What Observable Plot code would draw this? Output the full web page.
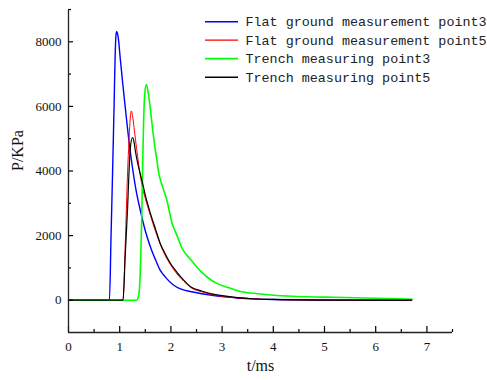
<!DOCTYPE html>
<html>
<head>
<meta charset="utf-8">
<script src="https://cdn.jsdelivr.net/npm/d3@7"></script>
<script src="https://cdn.jsdelivr.net/npm/@observablehq/plot@0.6"></script>
<style>
  html, body { margin: 0; padding: 0; background: #fff; }
  #chart { width: 487px; height: 380px; }
</style>
</head>
<body>
<div id="chart"></div>
<script>
// Series names (legend order)
const seriesNames = [
  "Flat ground measurement point3",
  "Flat ground measurement point5",
  "Trench measuring point3",
  "Trench measuring point5"
];
const seriesColors = ["#0000ff", "#ff0000", "#00ff00", "#000000"];

// Flat ground measurement point3 (blue)
const flat3T = [0, 0.80, 0.83, 0.86, 0.89, 0.91, 0.925, 0.94, 0.97, 1.01, 1.06, 1.11, 1.175, 1.25, 1.32, 1.40, 1.50, 1.60, 1.70, 1.79, 1.90, 2.05, 2.20, 2.40, 2.60, 2.80, 3.00, 3.30, 3.60, 4.00, 4.50, 5.00, 6.00, 6.70];
const flat3P = [0, 0, 1900, 3900, 6000, 7500, 8150, 8320, 8150, 7500, 6700, 5950, 5000, 4100, 3400, 2800, 2150, 1650, 1250, 930, 700, 470, 340, 260, 200, 150, 110, 70, 40, 20, 10, 5, 0, 0];

// Flat ground measurement point5 (red)
const flat5T = [0, 1.064, 1.11, 1.155, 1.18, 1.20, 1.227, 1.25, 1.28, 1.31, 1.35, 1.40, 1.45, 1.50, 1.60, 1.70, 1.80, 1.90, 2.00, 2.10, 2.25, 2.40, 2.60, 2.80, 3.00, 3.30, 3.60, 4.00, 4.50, 5.00, 6.00, 6.70];
const flat5P = [0, 0, 1800, 4000, 4900, 5500, 5860, 5720, 5350, 4950, 4450, 3880, 3450, 3150, 2620, 2130, 1700, 1350, 1080, 850, 590, 380, 260, 175, 120, 70, 40, 20, 8, 4, 0, 0];

// Trench measuring point3 (green)
const trench3T = [0, 1.33, 1.37, 1.39, 1.41, 1.43, 1.45, 1.465, 1.49, 1.52, 1.56, 1.60, 1.65, 1.70, 1.73, 1.76, 1.80, 1.86, 1.92, 2.02, 2.12, 2.22, 2.38, 2.58, 2.77, 2.90, 3.10, 3.36, 3.70, 4.00, 4.67, 5.20, 5.80, 6.30, 6.72];
const trench3P = [0, 0, 150, 450, 1300, 2500, 4300, 5400, 6400, 6680, 6400, 5900, 5200, 4600, 4300, 3950, 3700, 3400, 3100, 2400, 2000, 1600, 1270, 900, 640, 520, 400, 270, 200, 155, 105, 90, 70, 50, 30];

// Trench measuring point5 (black)
const trench5T = [0, 1.064, 1.11, 1.155, 1.18, 1.207, 1.25, 1.28, 1.31, 1.35, 1.40, 1.45, 1.50, 1.60, 1.70, 1.79, 1.90, 1.99, 2.10, 2.25, 2.40, 2.60, 2.80, 3.00, 3.30, 3.60, 4.00, 4.50, 5.00, 6.00, 6.70];
const trench5P = [0, 0, 1450, 2890, 3900, 4700, 5037, 4900, 4580, 4250, 3920, 3600, 3250, 2690, 2200, 1765, 1400, 1145, 900, 620, 400, 285, 195, 140, 80, 45, 25, 10, 5, 0, 0];

// Axis ticks
const xMajor = [0, 1, 2, 3, 4, 5, 6, 7];
const xMinor = [0.5, 1.5, 2.5, 3.5, 4.5, 5.5, 6.5, 7.5];
const yMajor = [0, 2000, 4000, 6000, 8000];
const yMinor = [1000, 3000, 5000, 7000, 9000];
const xDomain = [0, 7.5];
const yDomain = [-1000, 9000];

const seriesT = [flat3T, flat5T, trench3T, trench5T];
const seriesP = [flat3P, flat5P, trench3P, trench5P];
const widths = [1.4, 1.0, 1.6, 1.2];

const data = [];
seriesT.forEach((ts, i) => ts.forEach((t, j) => data.push({series: seriesNames[i], t, p: seriesP[i][j]})));

const lineMarks = seriesNames.map((name, i) =>
  Plot.line(data.filter(d => d.series === name), {
    x: "t", y: "p", stroke: seriesColors[i], strokeWidth: widths[i], curve: "monotone-x"
  })
);

const serif = "Liberation Serif";
const fmt = d => String(d);

const plot = Plot.plot({
  width: 487,
  height: 380,
  marginLeft: 68,
  marginRight: 35,
  marginTop: 9,
  marginBottom: 48,
  style: {fontFamily: serif, fontSize: "13px", color: "#000", background: "#fff"},
  x: {domain: xDomain, axis: null},
  y: {domain: yDomain, axis: null},
  marks: [
    ...lineMarks,
    // tick marks pointing inward
    Plot.axisX({ticks: xMajor, anchor: "bottom", tickSize: 6, dy: -6, fill: "none", label: null, strokeWidth: 1.2}),
    Plot.axisX({ticks: xMinor, anchor: "bottom", tickSize: 3, dy: -3, fill: "none", label: null, strokeWidth: 1.2}),
    Plot.axisY({ticks: yMajor, anchor: "left", tickSize: 5, dx: 5, fill: "none", label: null, strokeWidth: 1.2}),
    Plot.axisY({ticks: yMinor, anchor: "left", tickSize: 3, dx: 3, fill: "none", label: null, strokeWidth: 1.2}),
    // tick labels
    Plot.axisX({ticks: xMajor, anchor: "bottom", tickSize: 0, tickPadding: 9, label: null, fill: "#111", tickFormat: fmt, fontSize: 13}),
    Plot.axisY({ticks: yMajor, anchor: "left", tickSize: 0, tickPadding: 7, label: null, fill: "#111", tickFormat: fmt, fontSize: 13}),
    // axis lines
    Plot.ruleX([xDomain[0]], {stroke: "#222", strokeWidth: 1.3}),
    Plot.ruleY([yDomain[0]], {stroke: "#222", strokeWidth: 1.3}),
    // axis titles
    Plot.text(["P/KPa"], {frameAnchor: "left", dx: -51, rotate: -90, fontSize: 16, fill: "#111"}),
    Plot.text(["t/ms"], {frameAnchor: "bottom", dy: 38, fontSize: 16, fill: "#111"})
  ]
});

// Force serif font on all chart texts (axis labels and titles)
d3.select(plot).selectAll("text")
  .style("font-family", "'Liberation Serif', serif")
  .style("font-variant-numeric", "normal");

// Legend inside the plot (top right)
const svg = d3.select(plot);
const lg = svg.append("g").attr("class", "legend").attr("text-anchor", "start");
seriesNames.forEach((name, i) => {
  const y = 21.7 + i * 18.5;
  lg.append("line")
    .attr("x1", 205).attr("x2", 238).attr("y1", y).attr("y2", y)
    .attr("stroke", seriesColors[i]).attr("stroke-width", widths[i] + 0.2);
  lg.append("text")
    .attr("x", 245.5).attr("y", y).attr("dy", "0.35em")
    .attr("text-anchor", "start")
    .style("font-family", "'Liberation Mono', 'DejaVu Sans Mono', monospace")
    .style("font-size", "13.4px")
    .attr("fill", "#222")
    .text(name);
});

document.getElementById("chart").appendChild(plot);
</script>
</body>
</html>
